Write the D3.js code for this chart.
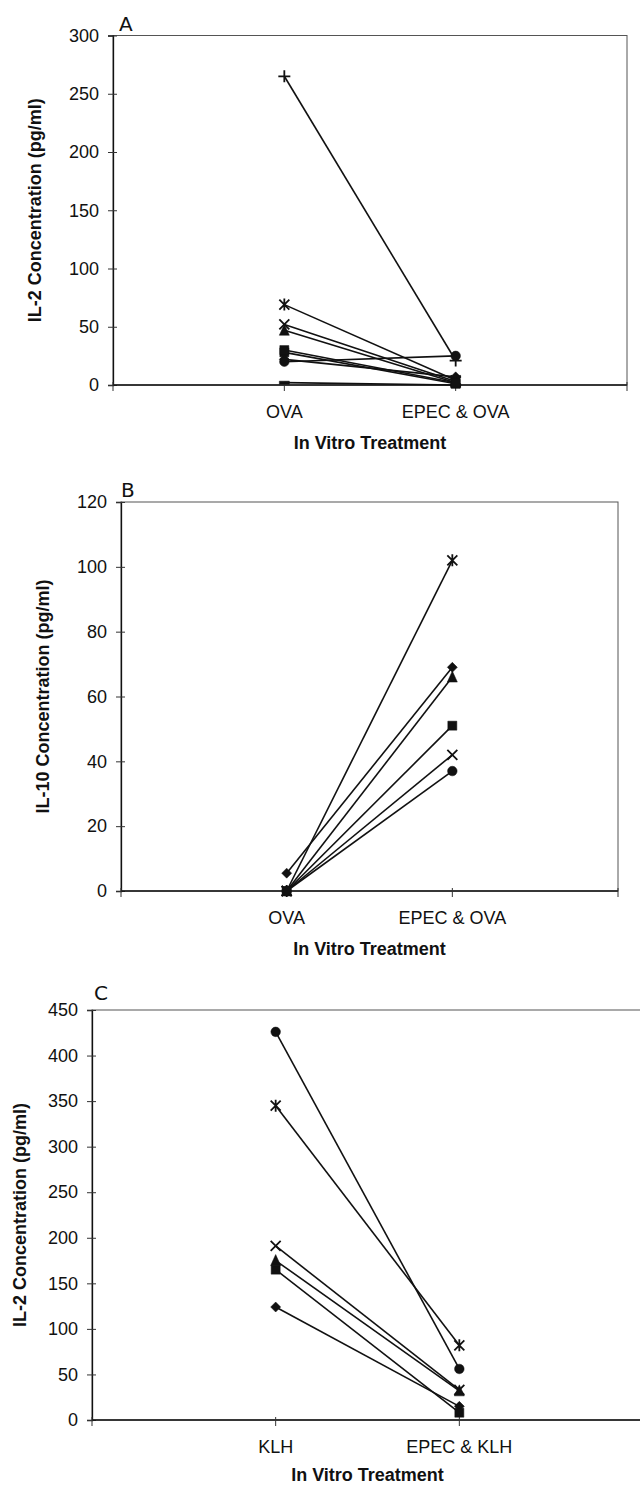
<!DOCTYPE html>
<meta charset="utf-8">
<script src="https://d3js.org/d3.v7.min.js"></script>
<style>
  body { margin: 0; background: #fff; }
  svg text { font-family: "Liberation Sans", Arial, sans-serif; fill: #111; }
</style>
<div id="chart"></div>
<script>
// ---- data ----
// Panel A: IL-2, OVA
const aCategories = ["OVA", "EPEC & OVA"];
const aMarkers = ["diamond", "square", "triangle", "x", "star", "circle", "plus", "dash", "square"];
const aFirst  = [22, 28, 47, 52, 69, 20, 265, 2, 30];
const aSecond = [7, 1, 2, 3, 4, 25, 21, 0, 2];
const aTicks = [0, 50, 100, 150, 200, 250, 300];

// Panel B: IL-10, OVA
const bCategories = ["OVA", "EPEC & OVA"];
const bMarkers = ["diamond", "square", "triangle", "x", "star", "circle"];
const bFirst  = [5.5, 0, 0, 0, 0, 0];
const bSecond = [69, 51, 66, 42, 102, 37];
const bTicks = [0, 20, 40, 60, 80, 100, 120];

// Panel C: IL-2, KLH
const cCategories = ["KLH", "EPEC & KLH"];
const cMarkers = ["diamond", "square", "triangle", "x", "star", "circle"];
const cFirst  = [124, 165, 175, 191, 345, 426];
const cSecond = [15, 8, 32, 33, 82, 56];
const cTicks = [0, 50, 100, 150, 200, 250, 300, 350, 400, 450];

const svg = d3.select("#chart").append("svg")
    .attr("width", 640)
    .attr("height", 1485);

// marker shapes (Excel style), centred on 0,0
function markerPath(type) {
    const r = 5;
    switch (type) {
        case "diamond": return `M0,${-r}L${r},0L0,${r}L${-r},0Z`;
        case "square": return `M${-r + 0.5},${-r + 0.5}h${2 * r - 1}v${2 * r - 1}h${-(2 * r - 1)}Z`;
        case "triangle": return `M0,${-r - 1}L${r},${r}L${-r},${r}Z`;
        case "circle": return d3.symbol(d3.symbolCircle, 72)();
        case "x": return `M${-r},${-r}L${r},${r}M${r},${-r}L${-r},${r}`;
        case "star": return `M${-r},${-r}L${r},${r}M${r},${-r}L${-r},${r}M0,${-r - 1}L0,${r + 1}`;
        case "plus": return `M${-r - 1},0L${r + 1},0M0,${-r - 1}L0,${r + 1}`;
        case "dash": return `M${-r},-1.5h${2 * r}v3h${-2 * r}Z`;
    }
}
const openMarkers = ["x", "star", "plus"];

function drawPanel(p) {
    const g = svg.append("g");

    const x = d3.scalePoint()
        .domain(p.categories)
        .range([p.left, p.right])
        .padding(1);

    const y = d3.scaleLinear()
        .domain([0, d3.max(p.ticks)])
        .range([p.bottom, p.top]);

    // plot frame
    g.append("rect")
        .attr("x", p.left)
        .attr("y", p.top)
        .attr("width", p.right - p.left)
        .attr("height", p.bottom - p.top)
        .attr("fill", "none")
        .attr("stroke", "#555")
        .attr("stroke-width", 1);

    // y axis
    const yAxis = g.append("g")
        .attr("transform", `translate(${p.left},0)`)
        .call(d3.axisLeft(y).tickValues(p.ticks).tickSize(5).tickPadding(9));
    yAxis.select(".domain").attr("stroke", "#111").attr("stroke-width", 1.3);
    yAxis.selectAll(".tick line").attr("x1", 4).attr("x2", -5).attr("stroke", "#333");
    yAxis.selectAll(".tick text")
        .style("font-size", "18px")
        .style("font-family", "'Liberation Sans', Arial, sans-serif")
        .attr("fill", "#111");

    // x axis: ticks at plot ends and at each category
    const xTicks = [p.left].concat(p.categories.map(c => x(c)), [p.right]);
    const xAxis = g.append("g");
    xAxis.append("line")
        .attr("x1", p.left).attr("x2", p.right)
        .attr("y1", p.bottom).attr("y2", p.bottom)
        .attr("stroke", "#111").attr("stroke-width", 1.3);
    xAxis.selectAll(".xt")
        .data(xTicks)
        .join("line")
        .attr("x1", d => d).attr("x2", d => d)
        .attr("y1", p.bottom - 3).attr("y2", p.bottom + 6)
        .attr("stroke", "#333");
    xAxis.selectAll(".xl")
        .data(p.categories)
        .join("text")
        .attr("x", d => x(d))
        .attr("y", p.bottom + 33)
        .attr("text-anchor", "middle")
        .style("font-size", "18px")
        .text(d => d);

    // axis titles
    g.append("text")
        .attr("x", (p.left + p.right) / 2)
        .attr("y", p.bottom + p.xTitleGap)
        .attr("text-anchor", "middle")
        .style("font-size", "18px")
        .style("font-weight", "bold")
        .text("In Vitro Treatment");

    g.append("text")
        .attr("transform", `translate(${p.labelX},${(p.top + p.bottom) / 2}) rotate(-90)`)
        .attr("text-anchor", "middle")
        .attr("dy", "0.35em")
        .style("font-size", "18px")
        .style("font-weight", "bold")
        .text(p.yLabel);

    // panel letter
    g.append("text")
        .attr("x", p.titleX)
        .attr("y", p.titleY)
        .style("font-family", "'DejaVu Sans', sans-serif")
        .style("font-size", "20px")
        .text(p.title);

    // one line per animal
    const rows = p.markers.map((m, i) => ({
        marker: m,
        values: [p.first[i], p.second[i]]
    }));

    const line = d3.line()
        .x((d, i) => x(p.categories[i]))
        .y(d => y(d));

    g.append("g")
        .selectAll("path")
        .data(rows)
        .join("path")
        .attr("d", d => line(d.values))
        .attr("fill", "none")
        .attr("stroke", "#111")
        .attr("stroke-width", 1.6);

    const pts = rows.flatMap(r => r.values.map((v, i) => ({ marker: r.marker, cat: p.categories[i], v: v })));
    g.append("g")
        .selectAll("path")
        .data(pts)
        .join("path")
        .attr("transform", d => `translate(${x(d.cat)},${y(d.v)})`)
        .attr("d", d => markerPath(d.marker))
        .attr("fill", d => openMarkers.includes(d.marker) ? "none" : "#111")
        .attr("stroke", "#111")
        .attr("stroke-width", d => openMarkers.includes(d.marker) ? 1.8 : 0.5);
}

drawPanel({
    categories: aCategories, markers: aMarkers, first: aFirst, second: aSecond, ticks: aTicks,
    left: 113, right: 627, top: 35.5, bottom: 385, xTitleGap: 64,
    yLabel: "IL-2 Concentration (pg/ml)", labelX: 35,
    title: "A", titleX: 119, titleY: 31
});

drawPanel({
    categories: bCategories, markers: bMarkers, first: bFirst, second: bSecond, ticks: bTicks,
    left: 121, right: 618, top: 502, bottom: 891, xTitleGap: 64,
    yLabel: "IL-10 Concentration (pg/ml)", labelX: 43,
    title: "B", titleX: 121, titleY: 497
});

drawPanel({
    categories: cCategories, markers: cMarkers, first: cFirst, second: cSecond, ticks: cTicks,
    left: 92, right: 643, top: 1010, bottom: 1420, xTitleGap: 61,
    yLabel: "IL-2 Concentration (pg/ml)", labelX: 20,
    title: "C", titleX: 94, titleY: 1000
});
</script>
